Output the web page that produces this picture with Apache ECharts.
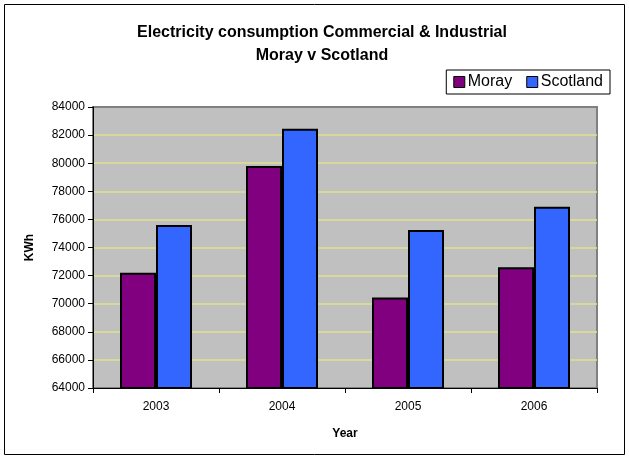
<!DOCTYPE html>
<html>
<head>
<meta charset="utf-8">
<script src="https://cdn.jsdelivr.net/npm/echarts@6/dist/echarts.min.js"></script>
<style>
html,body{margin:0;padding:0;background:#fff;}
#chart{width:629px;height:457px;}
</style>
</head>
<body>
<div id="chart"></div>
<script>
const categories = ['2003', '2004', '2005', '2006'];
const moray = [72200, 79800, 70450, 72600];
const scotland = [75600, 82450, 75250, 76900];
const yTicks = { min: 64000, max: 84000, interval: 2000 };

const chart = echarts.init(document.getElementById('chart'));
const font = 'Arial, "Liberation Sans", sans-serif';
chart.setOption({
  animation: false,
  textStyle: { fontFamily: font },
  title: {
    text: 'Electricity consumption Commercial & Industrial\nMoray v Scotland',
    left: 317, top: 16, textAlign: 'center',
    textStyle: { fontSize: 16, fontWeight: 'bold', color: '#000', lineHeight: 23, fontFamily: font }
  },
  legend: {
    right: 19, top: 70,
    itemWidth: 11, itemHeight: 11, itemGap: 14,
    padding: [4, 7, 4, 7],
    borderColor: '#000', borderWidth: 1,
    icon: 'rect',
    textStyle: { fontSize: 16, color: '#000', fontFamily: font, padding: [0, 0, 0, -2] },
    data: [
      { name: 'Moray', itemStyle: { borderColor: '#000', borderWidth: 1 } },
      { name: 'Scotland', itemStyle: { borderColor: '#000', borderWidth: 1 } }
    ]
  },
  graphic: [{
    type: 'rect', shape: { x: 4.5, y: 4.5, width: 620, height: 450 },
    style: { fill: 'none', stroke: '#000', lineWidth: 1 }, silent: true
  }],
  grid: {
    left: 93, right: 32, top: 107, bottom: 69,
    show: true, backgroundColor: '#c0c0c0', borderColor: '#808080', borderWidth: 2
  },
  xAxis: {
    type: 'category', data: categories,
    name: 'Year', nameLocation: 'middle', nameGap: 40,
    nameTextStyle: { fontWeight: 'bold', fontSize: 12, color: '#000', fontFamily: font },
    axisLine: { lineStyle: { color: '#000', width: 1 } },
    axisTick: { show: true, length: 5, lineStyle: { color: '#000' } },
    axisLabel: { fontSize: 12, color: '#000', margin: 13, fontFamily: font }
  },
  yAxis: {
    type: 'value', min: yTicks.min, max: yTicks.max, interval: yTicks.interval,
    name: 'KWh', nameLocation: 'middle', nameGap: 57, nameRotate: 90,
    nameTextStyle: { fontWeight: 'bold', fontSize: 12, color: '#000', fontFamily: font },
    axisLine: { show: true, lineStyle: { color: '#000', width: 1 } },
    axisTick: { show: true, length: 5, lineStyle: { color: '#000' } },
    axisLabel: { fontSize: 12, color: '#000', margin: 8, fontFamily: font, formatter: v => String(v) },
    splitLine: { show: true, showMinLine: false, showMaxLine: false, lineStyle: { color: '#e0e08c', width: 1.5 } }
  },
  series: [
    { name: 'Moray', type: 'bar', data: moray, barWidth: 36, barGap: '0%',
      itemStyle: { color: '#800080', borderColor: '#000', borderWidth: 2 } },
    { name: 'Scotland', type: 'bar', data: scotland, barWidth: 36, barGap: '0%',
      itemStyle: { color: '#3366ff', borderColor: '#000', borderWidth: 2 } }
  ]
});
</script>
</body>
</html>
